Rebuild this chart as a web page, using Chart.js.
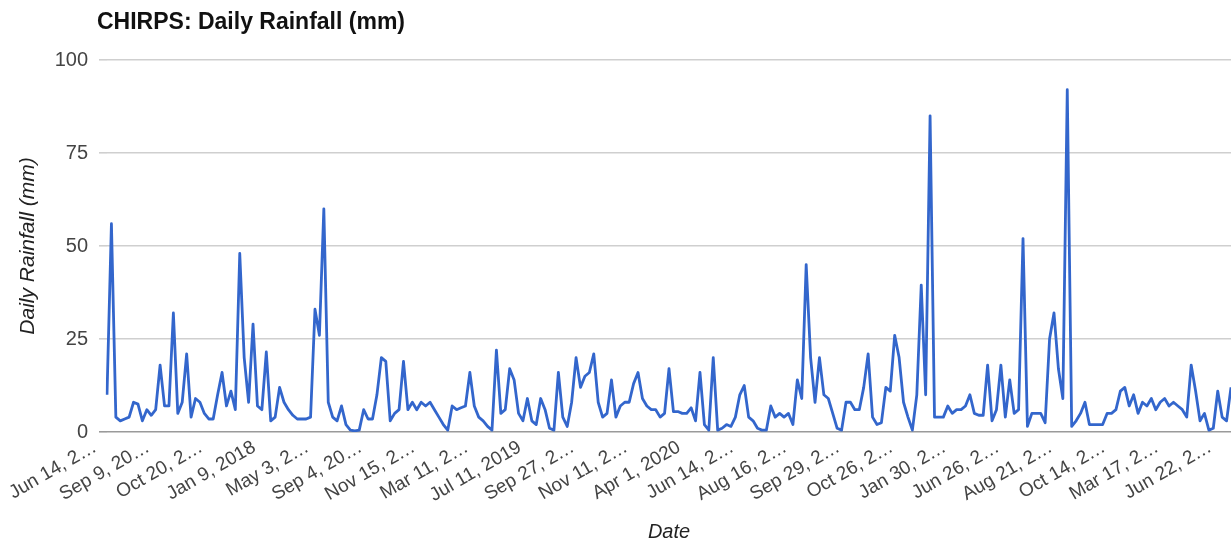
<!DOCTYPE html>
<html>
<head>
<meta charset="utf-8">
<script src="https://cdn.jsdelivr.net/npm/chart.js@4.4.0/dist/chart.umd.min.js"></script>
<style>
  html, body { margin:0; padding:0; background:#fff; }
  #wrap { position:relative; width:1231px; height:544px; }
  #title { position:absolute; left:97px; top:8px; font:bold 23px "Liberation Sans", Arial, sans-serif; color:#111; }
</style>
</head>
<body>
<div id="wrap">
  <div id="title">CHIRPS: Daily Rainfall (mm)</div>
  <canvas id="rain"></canvas>
</div>
<script>
// tick labels shown along the date axis (one every TICK_EVERY points)
const tickLabels = [
  "Jun 14, 2\u2026", "Sep 9, 20\u2026", "Oct 20, 2\u2026", "Jan 9, 2018", "May 3, 2\u2026",
  "Sep 4, 20\u2026", "Nov 15, 2\u2026", "Mar 11, 2\u2026", "Jul 11, 2019", "Sep 27, 2\u2026",
  "Nov 11, 2\u2026", "Apr 1, 2020", "Jun 14, 2\u2026", "Aug 16, 2\u2026", "Sep 29, 2\u2026",
  "Oct 26, 2\u2026", "Jan 30, 2\u2026", "Jun 26, 2\u2026", "Aug 21, 2\u2026", "Oct 14, 2\u2026",
  "Mar 17, 2\u2026", "Jun 22, 2\u2026"
];
const TICK_EVERY = 12;

// daily rainfall (mm)
const rainfall = [
  10, 56, 4, 3, 3.5, 4, 8, 7.5, 3, 6, 4.5, 6, 18, 7, 7, 32, 5, 8, 21, 4,
  9, 8, 5, 3.5, 3.5, 10, 16, 7, 11, 6, 48, 20, 8, 29, 7, 6, 21.5, 3, 4, 12,
  8, 6, 4.5, 3.5, 3.5, 3.5, 4, 33, 26, 60, 8, 4, 3, 7, 2, 0.5, 0.3, 0.5, 6, 3.5,
  3.5, 10, 20, 19, 3, 5, 6, 19, 6, 8, 6, 8, 7, 8, 6, 4, 2, 0.5, 7, 6,
  6.5, 7, 16, 7, 4, 3, 1.5, 0.5, 22, 5, 6, 17, 14, 5, 3, 9, 3, 2, 9, 6,
  1, 0.5, 16, 4, 1.5, 8, 20, 12, 15, 16, 21, 8, 4, 5, 14, 4, 7, 8, 8, 13,
  16, 9, 7, 6, 6, 4, 5, 17, 5.5, 5.5, 5, 5, 6.5, 3, 16, 2, 0.5, 20, 0.5, 1,
  2, 1.5, 4, 10, 12.5, 4, 3, 1, 0.5, 0.5, 7, 4, 5, 4, 5, 2, 14, 9, 45, 20,
  8, 20, 10, 9, 5, 1, 0.5, 8, 8, 6, 6, 12, 21, 4, 2, 2.5, 12, 11, 26, 20,
  8, 4, 0.5, 10, 39.5, 10, 85, 4, 4, 4, 7, 5, 6, 6, 7, 10, 5, 4.5, 4.5, 18,
  3, 6, 18, 4, 14, 5, 6, 52, 1.5, 5, 5, 5, 2.5, 25, 32, 17, 9, 92, 1.5, 3,
  5, 8, 2, 2, 2, 2, 5, 5, 6, 11, 12, 7, 10, 5, 8, 7, 9, 6, 8, 9,
  7, 8, 7, 6, 4, 18, 11, 3, 5, 0.5, 1, 11, 4, 3, 12
];

const yTicks = [0, 25, 50, 75, 100];

const labels = rainfall.map((_, i) => i % TICK_EVERY === 0 ? (tickLabels[i / TICK_EVERY] || "") : "");

const FONT = "'Liberation Sans', Arial, sans-serif";

new Chart(document.getElementById("rain"), {
  type: "line",
  data: {
    labels,
    datasets: [{
      label: "Daily Rainfall (mm)",
      data: rainfall,
      borderColor: "#3366cc",
      borderWidth: 2.8,
      borderJoinStyle: "round",
      pointRadius: 0,
      tension: 0,
      fill: false
    }]
  },
  options: {
    responsive: true,
    maintainAspectRatio: false,
    animation: false,
    layout: { padding: { top: 60, right: 0, left: 12, bottom: 0 } },
    plugins: { legend: { display: false }, tooltip: { enabled: false } },
    scales: {
      x: {
        grid: { display: false },
        border: { display: false },
        ticks: {
          autoSkip: false, minRotation: 30, maxRotation: 30, padding: -4, labelOffset: -12,
          color: "#444", font: { family: FONT, size: 19 },
          callback: (v, i) => labels[i] ? labels[i] : null
        },
        title: { display: true, text: "Date", color: "#222", padding: { top: 2, bottom: 0 }, font: { family: FONT, size: 20, style: "italic" } },
        afterFit: (s) => { s.height = 112; s.paddingRight = 0; s.paddingLeft = 0; }
      },
      y: {
        min: yTicks[0], max: yTicks[yTicks.length - 1],
        border: { display: false },
        grid: { color: (c) => c.tick && c.tick.value === 0 ? "#9a9a9a" : "#cfcfcf", lineWidth: 1.6 },
        afterBuildTicks: (s) => { s.ticks = yTicks.map(v => ({ value: v })); },
        ticks: { color: "#444", padding: 11, font: { family: FONT, size: 20 } },
        title: { display: true, text: "Daily Rainfall (mm)", color: "#222", padding: 4, font: { family: FONT, size: 21, style: "italic" } },
        afterFit: (s) => { s.width = 95; }
      }
    }
  }
});
</script>
</body>
</html>
